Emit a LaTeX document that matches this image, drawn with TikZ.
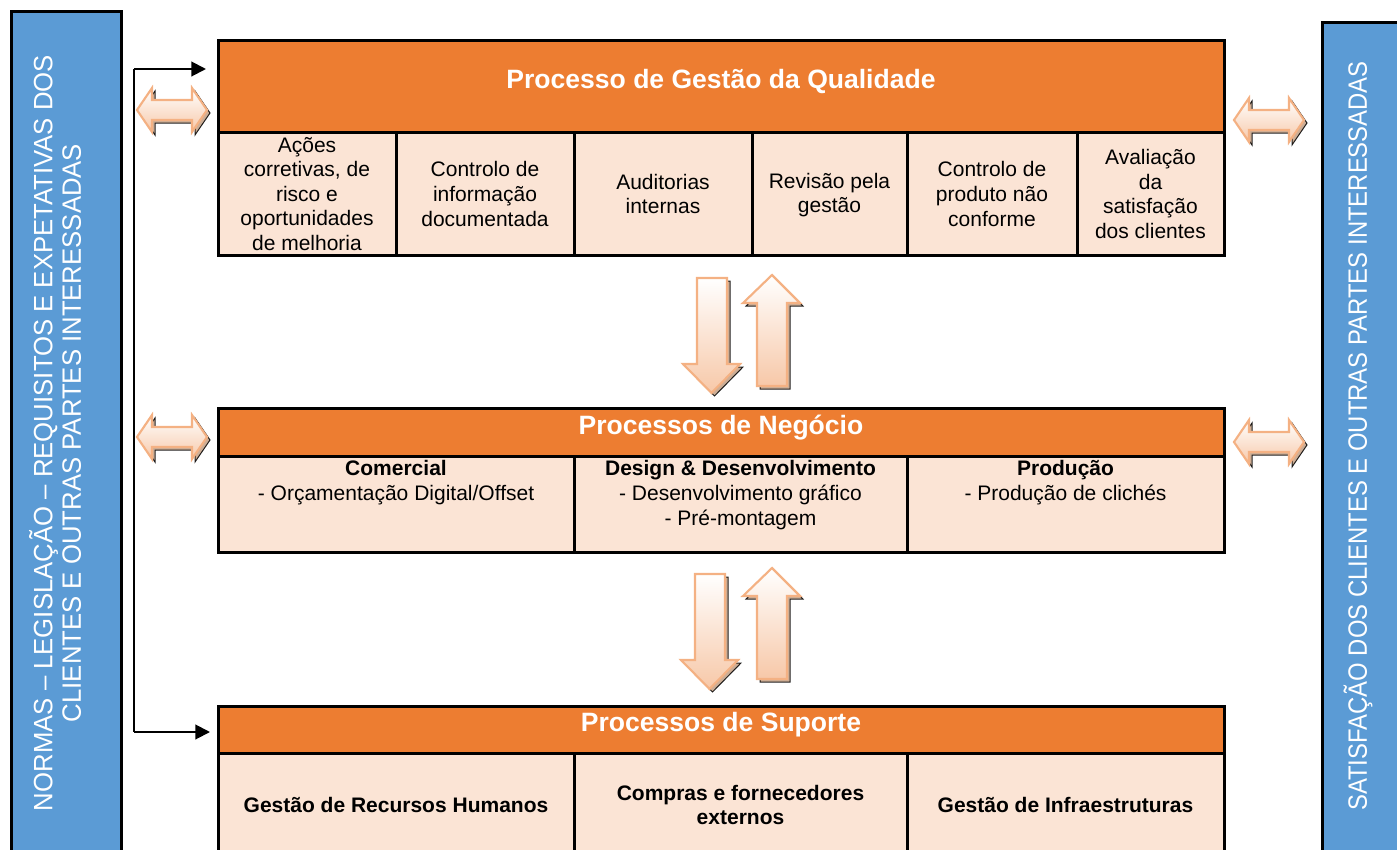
\documentclass[tikz,border=0pt]{standalone}
\usepackage{fontspec}
\setmainfont{Liberation Sans}
\newfontfamily\narrowfont[FakeStretch=0.9]{Liberation Sans}
\newfontfamily\normasfont[FakeStretch=0.97]{Liberation Sans}
\usetikzlibrary{arrows.meta}

\definecolor{qorange}{RGB}{237,125,49}
\definecolor{qpeach}{RGB}{251,228,213}
\definecolor{qblue}{RGB}{91,155,213}
\definecolor{arrowline}{RGB}{244,177,131}
\definecolor{arrowshade}{RGB}{247,200,168}
\definecolor{arrowdark}{RGB}{196,160,132}

\tikzset{every picture/.style={line width=0.75pt}}

\begin{document}
\begin{tikzpicture}[x=0.75pt,y=0.75pt,yscale=-1,xscale=1,
	hdrbox/.style={draw=black,fill=qorange,line width=2.25pt},
	cellbox/.style={draw=black,fill=qpeach,line width=2.25pt},
	sidebar/.style={draw=black,fill=qblue,line width=2.25pt},
	hdrtext/.style={text=white,font=\fontsize{19.9}{23}\selectfont\bfseries},
	celltext/.style={align=center,inner sep=0pt,font=\fontsize{15.75}{18.4}\selectfont},
	midtext/.style={align=center,inner sep=0pt,font=\fontsize{15.75}{18.75}\selectfont},
	sidetext/.style={rotate=90,text=white,align=center,inner sep=0pt,font=\narrowfont\fontsize{19.9}{21.4}\selectfont},
	flowarrow/.style={draw=arrowline,line width=1.6pt,top color=white,bottom color=arrowshade},
	flowshadow/.style={fill=arrowdark,opacity=0.85},
	link/.style={line width=1.5pt,-{Triangle[length=11pt,width=11pt]}}]
	%set diagram size to the page
	\useasboundingbox (0,0) rectangle (1397,850);
	\clip (0,0) rectangle (1397,850);

	%Shape: Rectangle [side bars]
	\draw[sidebar] (11,11) rectangle (121,870);
	\draw[sidebar] (1322,22) rectangle (1420,870);

	%Shape: Rectangle [quality process]
	\draw[hdrbox] (218,40) rectangle (1224,132);
	\draw[cellbox] (218,132) rectangle (1224,255);
	\draw[line width=2.25pt] (396,132) -- (396,255)(574,132) -- (574,255)(752,132) -- (752,255)(907,132) -- (907,255)(1077,132) -- (1077,255);

	%Shape: Rectangle [business processes]
	\draw[hdrbox] (218,408) rectangle (1224,456);
	\draw[cellbox] (218,456) rectangle (1224,552);
	\draw[line width=2.25pt] (574,456) -- (574,552)(907,456) -- (907,552);

	%Shape: Rectangle [support processes]
	\draw[hdrbox] (218,706) rectangle (1224,753);
	\draw[cellbox] (218,753) rectangle (1224,870);
	\draw[line width=2.25pt] (574,753) -- (574,870)(907,753) -- (907,870);

	%Shape: Up Down Arrows [quality <-> business]
	\draw[flowshadow] (700,281) -- (730,281) -- (730,367) -- (743,367) -- (714.5,396) -- (686,367) -- (700,367) -- cycle;
	\draw[flowarrow] (697,278) -- (727,278) -- (727,364) -- (740,364) -- (711.5,393) -- (683,364) -- (697,364) -- cycle;
	\draw[flowshadow] (775,278) -- (803,306) -- (790,306) -- (790,389) -- (760,389) -- (760,306) -- (746,306) -- cycle;
	\draw[flowarrow] (772,275) -- (800,303) -- (787,303) -- (787,386) -- (757,386) -- (757,303) -- (743,303) -- cycle;

	%Shape: Up Down Arrows [business <-> support]
	\draw[flowshadow] (698,577) -- (728,577) -- (728,663) -- (741,663) -- (712.5,692) -- (684,663) -- (698,663) -- cycle;
	\draw[flowarrow] (695,574) -- (725,574) -- (725,660) -- (738,660) -- (709.5,689) -- (681,660) -- (695,660) -- cycle;
	\draw[flowshadow] (775,571) -- (803,599) -- (790,599) -- (790,682) -- (760,682) -- (760,599) -- (746,599) -- cycle;
	\draw[flowarrow] (772,568) -- (800,596) -- (787,596) -- (787,679) -- (757,679) -- (757,596) -- (743,596) -- cycle;

	%Shape: Left Right Arrow [left]
	\draw[flowshadow,shift={(140,113)}] (0,0) -- (15,-22) -- (15,-10) -- (55,-10) -- (55,-22) -- (70,0) -- (55,22) -- (55,10) -- (15,10) -- (15,22) -- cycle;
	\draw[flowarrow,shift={(137,110)}] (0,0) -- (15,-22) -- (15,-10) -- (55,-10) -- (55,-22) -- (70,0) -- (55,22) -- (55,10) -- (15,10) -- (15,22) -- cycle;
	\draw[flowshadow,shift={(140,440)}] (0,0) -- (15,-22) -- (15,-10) -- (55,-10) -- (55,-22) -- (70,0) -- (55,22) -- (55,10) -- (15,10) -- (15,22) -- cycle;
	\draw[flowarrow,shift={(137,437)}] (0,0) -- (15,-22) -- (15,-10) -- (55,-10) -- (55,-22) -- (70,0) -- (55,22) -- (55,10) -- (15,10) -- (15,22) -- cycle;
	%Shape: Left Right Arrow [right]
	\draw[flowshadow,shift={(1237,123)}] (0,0) -- (15,-22) -- (15,-10) -- (55,-10) -- (55,-22) -- (70,0) -- (55,22) -- (55,10) -- (15,10) -- (15,22) -- cycle;
	\draw[flowarrow,shift={(1234,120)}] (0,0) -- (15,-22) -- (15,-10) -- (55,-10) -- (55,-22) -- (70,0) -- (55,22) -- (55,10) -- (15,10) -- (15,22) -- cycle;
	\draw[flowshadow,shift={(1237,445)}] (0,0) -- (15,-22) -- (15,-10) -- (55,-10) -- (55,-22) -- (70,0) -- (55,22) -- (55,10) -- (15,10) -- (15,22) -- cycle;
	\draw[flowarrow,shift={(1234,442)}] (0,0) -- (15,-22) -- (15,-10) -- (55,-10) -- (55,-22) -- (70,0) -- (55,22) -- (55,10) -- (15,10) -- (15,22) -- cycle;

	%Connectors [requirements feed]
	\coordinate (busTop) at (134,69);
	\coordinate (busBot) at (134,732);
	\coordinate (qualIn) at (206,69);
	\coordinate (supIn) at (210,732);
	\draw[line width=1.5pt] (busTop) -- (busBot);
	\draw[link] (busTop) -- (qualIn);
	\draw[link] (busBot) -- (supIn);

	% Text Node
	\node[sidetext,font=\normasfont\fontsize{19.9}{21.4}\selectfont] (normas) at (55,433) {NORMAS – LEGISLAÇÃO – REQUISITOS E EXPETATIVAS DOS\\CLIENTES E OUTRAS PARTES INTERESSADAS};
	% Text Node
	\node[sidetext] (satisfacao) at (1358,436) {SATISFAÇÃO DOS CLIENTES E OUTRAS PARTES INTERESSADAS};

	% Text Node
	\node[hdrtext] (qualTitle) at (721,81) {Processo de Gestão da Qualidade};
	\node[celltext] (acoes) at (307,194) {Ações\\corretivas, de\\risco e\\oportunidades\\de melhoria};
	\node[celltext] (ctrlInfo) at (485,194) {Controlo de\\informação\\documentada};
	\node[celltext] (audit) at (663,194) {Auditorias\\internas};
	\node[celltext] (revisao) at (829.5,195) {Revisão pela\\gestão};
	\node[celltext] (ctrlProd) at (992,194) {Controlo de\\produto não\\conforme};
	\node[celltext] (satisf) at (1150.5,194) {Avaliação\\da\\satisfação\\dos clientes};

	% Text Node
	\node[hdrtext] (negTitle) at (721,428) {Processos de Negócio};
	\node[midtext] (comercial) at (396,483) {\textbf{Comercial}\\- Orçamentação Digital/Offset};
	\node[midtext] (design) at (740.5,495.5) {\textbf{Design \& Desenvolvimento}\\- Desenvolvimento gráfico\\- Pré-montagem};
	\node[midtext] (producao) at (1065.5,483) {\textbf{Produção}\\- Produção de clichés};

	% Text Node
	\node[hdrtext] (supTitle) at (721,725) {Processos de Suporte};
	\node[celltext,font=\fontsize{15.75}{18.4}\selectfont\bfseries] (rh) at (396,805) {Gestão de Recursos Humanos};
	\node[celltext,font=\fontsize{15.75}{18.4}\selectfont\bfseries] (compras) at (740.5,805) {Compras e fornecedores\\externos};
	\node[celltext,font=\fontsize{15.75}{18.4}\selectfont\bfseries] (infra) at (1065.5,805) {Gestão de Infraestruturas};

\end{tikzpicture}
\end{document}
